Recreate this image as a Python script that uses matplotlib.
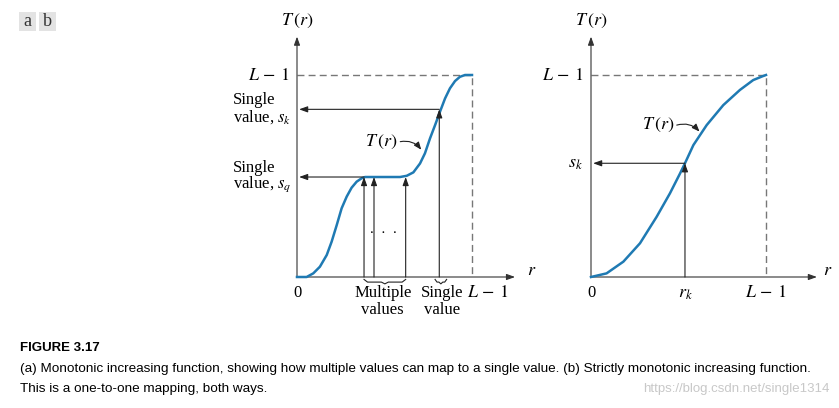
import matplotlib.pyplot as plt
from matplotlib.patches import FancyBboxPatch

plt.rcParams['mathtext.fontset'] = 'stix'
SERIF = 'Liberation Serif'

# curve (a): monotonic, with a flat part (r and T(r) as fractions of L-1)
left_r = [0.0, 0.055, 0.093, 0.131, 0.170, 0.198, 0.227, 0.255, 0.284, 0.312, 0.341,
          0.370, 0.389, 0.589, 0.627, 0.665, 0.703, 0.731, 0.760, 0.789, 0.817,
          0.846, 0.874, 0.903, 0.931, 0.960, 1.0]
left_T = [0.0, 0.0, 0.018, 0.051, 0.109, 0.175, 0.257, 0.340, 0.398, 0.442, 0.472,
          0.489, 0.495, 0.495, 0.501, 0.518, 0.562, 0.612, 0.686, 0.752, 0.818,
          0.884, 0.934, 0.970, 0.991, 1.0, 1.0]
# curve (b): strictly monotonic
right_r = [0.0, 0.089, 0.185, 0.280, 0.375, 0.451, 0.509, 0.537, 0.585, 0.661,
           0.756, 0.851, 0.927, 0.984, 1.0]
right_T = [0.0, 0.018, 0.076, 0.167, 0.298, 0.414, 0.513, 0.563, 0.653, 0.752,
           0.851, 0.926, 0.975, 0.995, 1.0]

multi_r = [0.383, 0.440, 0.621]   # several r mapping to s_q
sq = 0.495
single_r = 0.813                  # one r mapping to s_k
sk_a = 0.83
rk = 0.537
sk_b = 0.563

blue = '#1f7ab3'
ink = '#222222'

fig = plt.figure(figsize=(8.39, 4.08), dpi=100)

def px_axes(x0, x1, y0, y1, xr):
    # axes whose data units map to the drawing: 175 px per r unit, 202 px per T unit
    ax = fig.add_axes([x0 / 839, 1 - y1 / 408, (x1 - x0) / 839, (y1 - y0) / 408])
    ax.set_xlim((x0 - xr) / 175, (x1 - xr) / 175)
    ax.set_ylim((277 - y1) / 202, (277 - y0) / 202)
    ax.axis('off')
    return ax

def arrow(ax, tail, tip, lw=0.8, color=ink):
    ax.annotate('', xy=tip, xytext=tail,
                arrowprops=dict(arrowstyle='-|>,head_length=0.5,head_width=0.18', lw=lw,
                                color=color, mutation_scale=10, shrinkA=0, shrinkB=0))

def brace(ax, a, b, y=-0.012, h=0.022):
    m = (a + b) / 2
    k = min(0.02, (b - a) / 6)
    ax.plot([a, a + k, m - k, m, m + k, b - k, b],
            [y, y - h * 0.6, y - h * 0.6, y - h, y - h * 0.6, y - h * 0.6, y],
            color=ink, lw=0.8)

def frame(ax, xend, label_x):
    arrow(ax, (0, 0), (0, 1.19), color='#333333')
    arrow(ax, (0, 0), (xend, 0), color='#333333')
    ax.plot([0, 1, 1], [1, 1, 0], ls=(0, (5, 3)), color='#777777', lw=1)
    ax.text(0, 1.27, r'$T\,(r)$', ha='center', va='center', fontsize=13)
    ax.text(label_x, 0.035, r'$r$', ha='center', va='center', fontsize=13)
    ax.text(0, -0.08, '0', ha='center', va='center', fontsize=12, family=SERIF)
    ax.text(-0.045, 1.0, r'$L\,-\,1$', ha='right', va='center', fontsize=13)

# ---- panel (a)
ax1 = px_axes(225, 540, 5, 335, 297)
frame(ax1, 1.246, 1.34)
ax1.plot(left_r, left_T, color=blue, lw=1.8, zorder=3, solid_joinstyle='round')
for r in multi_r:
    arrow(ax1, (r, 0), (r, sq))
arrow(ax1, (single_r, 0), (single_r, sk_a))
arrow(ax1, (multi_r[0], sq), (0.012, sq))
arrow(ax1, (single_r, sk_a), (0.012, sk_a))
ax1.text(0.495, 0.233, '.  .  .', ha='center', va='center', fontsize=11, family=SERIF)
brace(ax1, multi_r[0], multi_r[-1])
brace(ax1, 0.789, 0.855)
ax1.text(0.49, -0.12, 'Multiple\nvalues', ha='center', va='center', fontsize=12,
         family=SERIF, linespacing=1.05)
ax1.text(0.83, -0.12, 'Single\nvalue', ha='center', va='center', fontsize=12,
         family=SERIF, linespacing=1.05)
ax1.text(1.09, -0.075, r'$L\,-\,1$', ha='center', va='center', fontsize=13)
ax1.text(-0.367, 0.876, 'Single', ha='left', va='center', fontsize=12, family=SERIF)
ax1.text(-0.367, 0.792, r'value, $s_k$', ha='left', va='center', fontsize=12, family=SERIF)
ax1.text(-0.367, 0.54, 'Single', ha='left', va='center', fontsize=12, family=SERIF)
ax1.text(-0.367, 0.458, r'value, $s_q$', ha='left', va='center', fontsize=12, family=SERIF)
ax1.text(0.48, 0.67, r'$T\,(r)$', ha='center', va='center', fontsize=13)
ax1.annotate('', xy=(0.71, 0.63), xytext=(0.59, 0.67),
             arrowprops=dict(arrowstyle='-|>,head_length=0.5,head_width=0.2', lw=0.8,
                             color=ink, mutation_scale=9,
                             connectionstyle='arc3,rad=-0.3', shrinkA=0, shrinkB=0))

# ---- panel (b)
ax2 = px_axes(520, 839, 5, 335, 591)
frame(ax2, 1.291, 1.355)
ax2.plot(right_r, right_T, color=blue, lw=1.8, zorder=3, solid_joinstyle='round')
arrow(ax2, (rk, 0), (rk, sk_b))
arrow(ax2, (rk, sk_b), (0.012, sk_b))
ax2.text(-0.045, sk_b, r'$s_k$', ha='right', va='center', fontsize=13)
ax2.text(rk, -0.08, r'$r_k$', ha='center', va='center', fontsize=13)
ax2.text(1.0, -0.075, r'$L\,-\,1$', ha='center', va='center', fontsize=13)
ax2.text(0.385, 0.752, r'$T\,(r)$', ha='center', va='center', fontsize=13)
ax2.annotate('', xy=(0.62, 0.72), xytext=(0.49, 0.752),
             arrowprops=dict(arrowstyle='-|>,head_length=0.5,head_width=0.2', lw=0.8,
                             color=ink, mutation_scale=9,
                             connectionstyle='arc3,rad=-0.3', shrinkA=0, shrinkB=0))

# ---- panel tags "a b"
for tag, x in [('a', 27.5), ('b', 47.5)]:
    fig.patches.append(FancyBboxPatch((x / 839 - 8.5 / 839, 1 - 31 / 408), 17 / 839, 19 / 408,
                                      boxstyle='square,pad=0', transform=fig.transFigure,
                                      facecolor='#e3e3e3', edgecolor='none'))
    fig.text(x / 839, 1 - 21 / 408, tag, ha='center', va='center', fontsize=13, family=SERIF,
             color='#333333')

# ---- caption
cap_font = ['Liberation Sans Narrow', 'Liberation Sans', 'DejaVu Sans']
fig.text(20 / 839, 1 - 348 / 408, 'FIGURE 3.17', fontsize=9.5, weight='bold',
         family=cap_font, va='center')
fig.text(20 / 839, 1 - 369 / 408,
         '(a) Monotonic increasing function, showing how multiple values can map to a single value. '
         '(b) Strictly monotonic increasing function.',
         fontsize=9.7, family=cap_font, va='center')
fig.text(20 / 839, 1 - 389 / 408, 'This is a one-to-one mapping, both ways.',
         fontsize=9.7, family=cap_font, va='center')
fig.text(830 / 839, 1 - 389 / 408, 'https://blog.csdn.net/single1314', fontsize=9.5,
         family=cap_font, va='center', ha='right', color='#c8c8c8')

fig.savefig('out.png', dpi=100, facecolor='white')
